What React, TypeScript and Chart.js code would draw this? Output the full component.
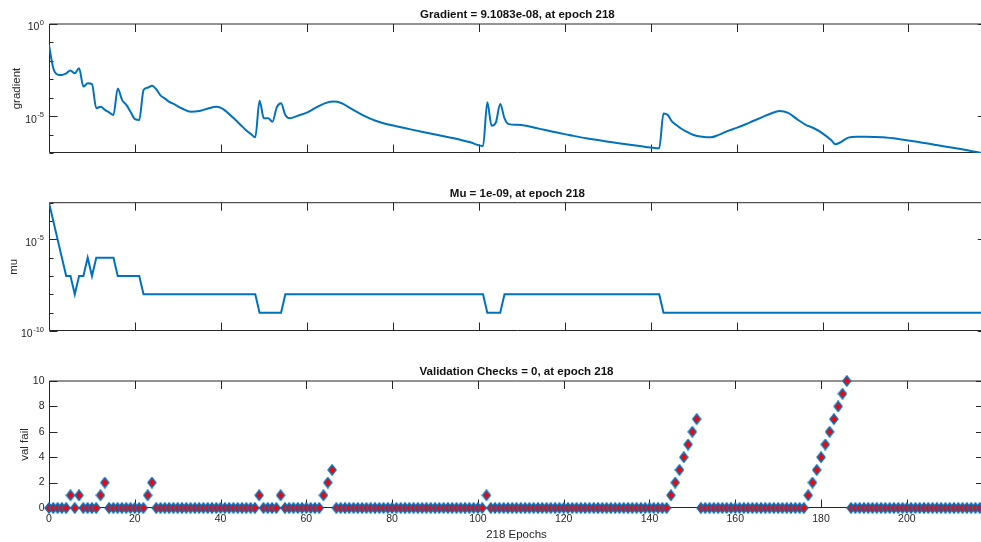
import React, { useEffect, useRef } from 'react';
import { Chart, registerables } from 'chart.js';

Chart.register(...registerables);

const FONT = '"Liberation Sans", Arial, Helvetica, sans-serif';
const TEXT = '#262626';
const AXIS = '#262626';
const BLUE = '#0072BD';
const RED = '#FF0000';
const TICK = 8;

// ---------- data ----------
const epochTicks = [0, 20, 40, 60, 80, 100, 120, 140, 160, 180, 200];
const epochMax = 218;

const gradTitle = 'Gradient = 9.1083e-08, at epoch 218';
const muTitle = 'Mu = 1e-09, at epoch 218';
const valTitle = 'Validation Checks = 0, at epoch 218';
const xTitle = '218 Epochs';

const gradEpochs = [
  0, 1, 2, 3, 4, 5, 6, 7, 8, 9, 10, 11, 12, 13, 14, 15, 16, 17, 18, 19,
  20, 21, 22, 23, 24, 25, 26, 27, 28, 29, 31, 33, 35, 37, 39, 40, 41, 43, 45, 46,
  47, 48, 49, 50, 51, 52, 53, 54, 55, 56, 58, 60, 62, 64, 66, 68, 70, 73, 76, 79,
  83, 87, 91, 95, 98, 101, 102, 103, 104, 105, 106, 107, 109, 111, 114, 117, 121, 125, 129, 133,
  137, 140, 142, 143, 144, 145, 146, 147, 148, 150, 152, 154, 156, 158, 160, 162, 164, 166, 168, 170,
  172, 174, 176, 178, 180, 182, 183, 184, 186, 188, 190, 194, 198, 202, 206, 210, 214, 218,
];
const gradValues = [
  7.2e-2, 4.0e-3, 1.8e-3, 1.7e-3, 2.1e-3, 3.0e-3, 2.1e-3, 4.0e-3, 4.0e-4, 6.0e-4,
  5.4e-4, 2.7e-5, 3.2e-5, 2.2e-5, 1.6e-5, 1.15e-5, 3.2e-4, 7.6e-5, 4.1e-5, 1.66e-5,
  6.8e-6, 6.2e-6, 2.6e-4, 3.5e-4, 4.5e-4, 2.8e-4, 1.3e-4, 8.9e-5, 6.0e-5, 4.6e-5,
  2.6e-5, 1.74e-5, 1.9e-5, 2.6e-5, 3.2e-5, 2.8e-5, 2.0e-5, 7.6e-6, 2.7e-6, 1.6e-6,
  1.07e-6, 7.1e-7, 6.9e-5, 7.6e-6, 7.6e-6, 5.0e-6, 3.0e-5, 5.0e-5, 1.15e-5, 7.6e-6,
  1.07e-5, 1.55e-5, 2.8e-5, 4.8e-5, 6.2e-5, 5.2e-5, 2.8e-5, 1.15e-5, 5.6e-6, 3.5e-6,
  2.2e-6, 1.38e-6, 8.9e-7, 5.8e-7, 3.8e-7, 2.4e-7, 5.6e-5, 3.0e-6, 4.6e-6, 4.6e-5,
  7.6e-6, 3.7e-6, 3.4e-6, 3.0e-6, 2.1e-6, 1.45e-6, 9.5e-7, 6.3e-7, 4.5e-7, 3.3e-7,
  2.5e-7, 2.0e-7, 1.8e-7, 1.4e-5, 1.15e-5, 5.0e-6, 3.3e-6, 2.2e-6, 1.6e-6, 9.5e-7,
  7.6e-7, 7.1e-7, 1.0e-6, 1.6e-6, 2.3e-6, 3.5e-6, 5.6e-6, 8.9e-6, 1.4e-5, 1.9e-5,
  1.5e-5, 7.1e-6, 3.5e-6, 2.2e-6, 1.17e-6, 5.0e-7, 3.0e-7, 3.6e-7, 6.8e-7, 7.6e-7,
  7.6e-7, 7.1e-7, 5.6e-7, 4.1e-7, 2.8e-7, 2.0e-7, 1.38e-7, 9.1083e-8,
];

const muEpochs = [0, 1, 2, 3, 4, 5, 6, 7, 8, 9, 10, 11, 15, 16, 21, 22, 48, 49, 54, 55, 101, 102, 105, 106, 142, 143, 218];
const muValues = [
  1e-3, 1e-4, 1e-5, 1e-6, 1e-7, 1e-7, 1e-8, 1e-7, 1e-7, 1e-6, 1e-7, 1e-6, 1e-6, 1e-7,
  1e-7, 1e-8, 1e-8, 1e-9, 1e-9, 1e-8, 1e-8, 1e-9, 1e-9, 1e-8, 1e-8, 1e-9, 1e-9,
];

// validation failures, one value per epoch 0..218
const valFail = [
  0, 0, 0, 0, 0, 1, 0, 1, 0, 0, 0, 0, 1, 2, 0, 0, 0, 0, 0, 0,
  0, 0, 0, 1, 2, 0, 0, 0, 0, 0, 0, 0, 0, 0, 0, 0, 0, 0, 0, 0,
  0, 0, 0, 0, 0, 0, 0, 0, 0, 1, 0, 0, 0, 0, 1, 0, 0, 0, 0, 0,
  0, 0, 0, 0, 1, 2, 3, 0, 0, 0, 0, 0, 0, 0, 0, 0, 0, 0, 0, 0,
  0, 0, 0, 0, 0, 0, 0, 0, 0, 0, 0, 0, 0, 0, 0, 0, 0, 0, 0, 0,
  0, 0, 1, 0, 0, 0, 0, 0, 0, 0, 0, 0, 0, 0, 0, 0, 0, 0, 0, 0,
  0, 0, 0, 0, 0, 0, 0, 0, 0, 0, 0, 0, 0, 0, 0, 0, 0, 0, 0, 0,
  0, 0, 0, 0, 0, 1, 2, 3, 4, 5, 6, 7, 0, 0, 0, 0, 0, 0, 0, 0,
  0, 0, 0, 0, 0, 0, 0, 0, 0, 0, 0, 0, 0, 0, 0, 0, 0, 1, 2, 3,
  4, 5, 6, 7, 8, 9, 10, 0, 0, 0, 0, 0, 0, 0, 0, 0, 0, 0, 0, 0,
  0, 0, 0, 0, 0, 0, 0, 0, 0, 0, 0, 0, 0, 0, 0, 0, 0, 0, 0,
];

const gradTicks = [1, 1e-1, 1e-2, 1e-3, 1e-4, 1e-5, 1e-6, 1e-7];
const gradLabeled = [1, 1e-5];
const muTicks = [1e-3, 1e-4, 1e-5, 1e-6, 1e-7, 1e-8, 1e-9, 1e-10];
const muLabeled = [1e-5, 1e-10];
const valTicks = [0, 2, 4, 6, 8, 10];

// ---------- drawing helpers ----------
interface AxesCfg {
  title: string;
  yTitle: string;
  yTitleX: number;
  yTicks: number[];
  yLabeled: number[];
  log: boolean;
  xLabels: boolean;
}

function axesPlugin(cfg: AxesCfg) {
  return {
    id: 'matlabAxes',
    beforeDatasetsDraw(chart: any) {
      const { ctx, chartArea: a } = chart;
      const xs = chart.scales.x;
      const ys = chart.scales.y;
      const L = Math.round(a.left) + 0.5;
      const B = Math.round(a.bottom) - 0.5;
      const T = a.top;
      const R = a.right;
      ctx.save();
      ctx.strokeStyle = AXIS;
      ctx.lineWidth = 1;
      ctx.beginPath();
      ctx.moveTo(L, T);
      ctx.lineTo(R, T);
      ctx.lineTo(R, B);
      ctx.lineTo(L, B);
      ctx.closePath();
      ctx.stroke();

      ctx.beginPath();
      for (const v of epochTicks) {
        const px = Math.round(xs.getPixelForValue(v)) + 0.5;
        ctx.moveTo(px, B);
        ctx.lineTo(px, B - TICK);
        ctx.moveTo(px, T);
        ctx.lineTo(px, T + TICK);
      }
      for (const v of cfg.yTicks) {
        const len = cfg.yLabeled.includes(v) ? TICK : TICK / 2;
        const py = Math.round(ys.getPixelForValue(v)) + 0.5;
        ctx.moveTo(L, py);
        ctx.lineTo(L + len, py);
        ctx.moveTo(R, py);
        ctx.lineTo(R - len, py);
      }
      ctx.stroke();

      // y tick labels
      ctx.fillStyle = TEXT;
      ctx.textBaseline = 'middle';
      const baseFont = `10.5px ${FONT}`;
      const supFont = `7.5px ${FONT}`;
      for (const v of cfg.yLabeled) {
        const py = ys.getPixelForValue(v);
        if (cfg.log) {
          const exp = String(Math.round(Math.log10(v)));
          ctx.font = baseFont;
          const wb = ctx.measureText('10').width;
          ctx.font = supFont;
          const we = ctx.measureText(exp).width;
          const x0 = L - 6 - wb - we;
          ctx.textAlign = 'left';
          ctx.font = baseFont;
          ctx.fillText('10', x0, py + 3.5);
          ctx.font = supFont;
          ctx.fillText(exp, x0 + wb + 0.5, py - 1.5);
        } else {
          ctx.font = baseFont;
          ctx.textAlign = 'right';
          ctx.fillText(String(v), L - 5, py);
        }
      }

      // x tick labels + x title
      if (cfg.xLabels) {
        ctx.font = baseFont;
        ctx.textAlign = 'center';
        for (const v of epochTicks) {
          ctx.fillText(String(v), xs.getPixelForValue(v), a.bottom + 11.5);
        }
        ctx.font = `11.5px ${FONT}`;
        ctx.fillText(xTitle, (a.left + a.right) / 2, a.bottom + 27);
      }

      // title
      ctx.font = `bold 11.5px ${FONT}`;
      ctx.fillStyle = '#111111';
      ctx.textAlign = 'center';
      ctx.fillText(cfg.title, (a.left + a.right) / 2, a.top - 8.7);

      // y title
      ctx.save();
      ctx.translate(cfg.yTitleX, (a.top + a.bottom) / 2);
      ctx.rotate(-Math.PI / 2);
      ctx.font = `11.5px ${FONT}`;
      ctx.fillStyle = TEXT;
      ctx.textAlign = 'center';
      ctx.textBaseline = 'middle';
      ctx.fillText(cfg.yTitle, 0, 0);
      ctx.restore();

      ctx.restore();
    },
  };
}

function makeDiamond(): HTMLCanvasElement {
  const c = document.createElement('canvas');
  c.width = 10;
  c.height = 12;
  const g = c.getContext('2d')!;
  g.beginPath();
  g.moveTo(5, 1);
  g.lineTo(8.9, 6);
  g.lineTo(5, 11);
  g.lineTo(1.1, 6);
  g.closePath();
  g.fillStyle = RED;
  g.fill();
  g.lineWidth = 1.5;
  g.strokeStyle = BLUE;
  g.stroke();
  return c;
}

function baseOptions(padding: any, yScale: any) {
  return {
    animation: false,
    responsive: false,
    events: [],
    layout: { padding },
    scales: {
      x: { type: 'linear', min: 0, max: epochMax, display: false },
      y: { ...yScale, display: false },
    },
    plugins: {
      legend: { display: false },
      tooltip: { enabled: false },
      title: { display: false },
    },
  };
}

const CANVAS_W = 990;

function Panel({ top, height, build }: { top: number; height: number; build: () => any }) {
  const ref = useRef<HTMLCanvasElement>(null);
  useEffect(() => {
    const chart = new Chart(ref.current as HTMLCanvasElement, build());
    return () => chart.destroy();
  }, []);
  return (
    <canvas
      ref={ref}
      width={CANVAS_W}
      height={height}
      style={{ position: 'absolute', left: 0, top, width: CANVAS_W, height }}
    />
  );
}

const buildGrad = () => ({
  type: 'line',
  data: {
    datasets: [
      {
        data: gradEpochs.map((e, i) => ({ x: e, y: gradValues[i] })),
        borderColor: BLUE,
        borderWidth: 2,
        pointRadius: 0,
        cubicInterpolationMode: 'monotone',
      },
    ],
  },
  options: baseOptions({ left: 49, right: 4.2, top: 24, bottom: 17 }, { type: 'logarithmic', min: 1e-7, max: 1 }),
  plugins: [
    axesPlugin({ title: gradTitle, yTitle: 'gradient', yTitleX: 17, yTicks: gradTicks, yLabeled: gradLabeled, log: true, xLabels: false }),
  ],
});

const buildMu = () => ({
  type: 'line',
  data: {
    datasets: [
      {
        data: muEpochs.map((e, i) => ({ x: e, y: muValues[i] })),
        borderColor: BLUE,
        borderWidth: 2,
        pointRadius: 0,
        tension: 0,
      },
    ],
  },
  options: baseOptions({ left: 49, right: 4.2, top: 32.7, bottom: 14 }, { type: 'logarithmic', min: 1e-10, max: 1e-3 }),
  plugins: [
    axesPlugin({ title: muTitle, yTitle: 'mu', yTitleX: 13.5, yTicks: muTicks, yLabeled: muLabeled, log: true, xLabels: false }),
  ],
});

const buildVal = () => {
  const diamond = makeDiamond();
  return {
    type: 'line',
    data: {
      datasets: [
        {
          data: valFail.map((v, i) => ({ x: i, y: v })),
          showLine: false,
          pointStyle: diamond,
          pointRadius: 5,
          clip: false,
        },
      ],
    },
    options: baseOptions({ left: 49, right: 4.2, top: 36, bottom: 34 }, { type: 'linear', min: 0, max: 10 }),
    plugins: [
      axesPlugin({ title: valTitle, yTitle: 'val fail', yTitleX: 25, yTicks: valTicks, yLabeled: valTicks, log: false, xLabels: true }),
    ],
  };
};

export default function App() {
  useEffect(() => {
    document.body.style.margin = '0';
  }, []);
  return (
    <div style={{ position: 'relative', width: 981, height: 542, overflow: 'hidden', background: '#fff' }}>
      <Panel top={0} height={170} build={buildGrad} />
      <Panel top={170} height={175} build={buildMu} />
      <Panel top={345} height={197} build={buildVal} />
    </div>
  );
}
